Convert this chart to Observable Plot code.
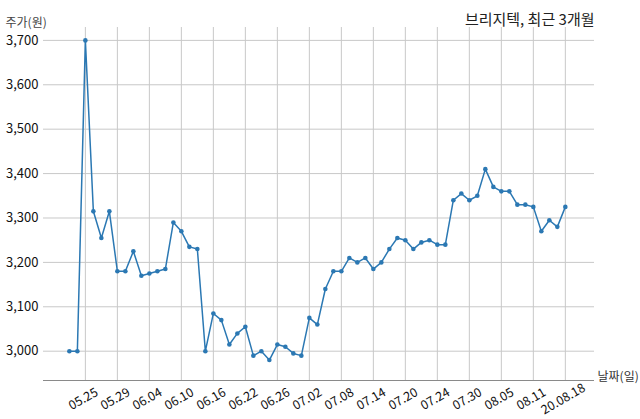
<!DOCTYPE html>
<html><head><meta charset="utf-8">
<script src="https://cdn.jsdelivr.net/npm/d3@7"></script>
<script src="https://cdn.jsdelivr.net/npm/@observablehq/plot@0.6"></script>
<style>body{margin:0;background:#fff} #chart{width:640px;height:419px}</style>
</head><body><div id="chart"></div>
<script>
const dates = [
  "2020-05-21","2020-05-22","2020-05-25","2020-05-26","2020-05-27","2020-05-28","2020-05-29",
  "2020-06-01","2020-06-02","2020-06-03","2020-06-04","2020-06-05","2020-06-08","2020-06-09","2020-06-10",
  "2020-06-11","2020-06-12","2020-06-15","2020-06-16","2020-06-17","2020-06-18","2020-06-19","2020-06-22",
  "2020-06-23","2020-06-24","2020-06-25","2020-06-26","2020-06-29","2020-06-30",
  "2020-07-01","2020-07-02","2020-07-03","2020-07-06","2020-07-07","2020-07-08","2020-07-09","2020-07-10",
  "2020-07-13","2020-07-14","2020-07-15","2020-07-16","2020-07-17","2020-07-20","2020-07-21","2020-07-22",
  "2020-07-23","2020-07-24","2020-07-27","2020-07-28","2020-07-29","2020-07-30","2020-07-31",
  "2020-08-03","2020-08-04","2020-08-05","2020-08-06","2020-08-07","2020-08-10","2020-08-11","2020-08-12",
  "2020-08-13","2020-08-14","2020-08-18"
];
const prices = [
  3000, 3000, 3700, 3315, 3255, 3315, 3180, 3180, 3225, 3170, 3175, 3180, 3185, 3290, 3270, 3235,
  3230, 3000, 3085, 3070, 3015, 3040, 3055, 2990, 3000, 2980, 3015, 3010, 2995, 2990, 3075, 3060,
  3140, 3180, 3180, 3210, 3200, 3210, 3185, 3200, 3230, 3255, 3250, 3230, 3245, 3250, 3240, 3240,
  3340, 3355, 3340, 3350, 3410, 3370, 3360, 3360, 3330, 3330, 3325, 3270, 3295, 3280, 3325
];
const tickDates = [
  "2020-05-25","2020-05-29","2020-06-04","2020-06-10","2020-06-16","2020-06-22","2020-06-26","2020-07-02",
  "2020-07-08","2020-07-14","2020-07-20","2020-07-24","2020-07-30","2020-08-05","2020-08-11","2020-08-18"
];
const tickLabels = [
  "05.25","05.29","06.04","06.10","06.16","06.22","06.26","07.02",
  "07.08","07.14","07.20","07.24","07.30","08.05","08.11","20.08.18"
];
const yTicks = [3000, 3100, 3200, 3300, 3400, 3500, 3600, 3700];
const title = "브리지텍, 최근 3개월";
const yLabel = "주가(원)";
const xLabel = "날짜(일)";

const data = dates.map((d, i) => ({date: d, price: prices[i]}));
const labelOf = new Map(tickDates.map((d, i) => [d, tickLabels[i]]));
const lineColor = "#2b78b3";

const plot = Plot.plot({
  width: 640, height: 419,
  marginTop: 27, marginBottom: 39, marginLeft: 43, marginRight: 46,
  style: {fontFamily: "'Noto Sans CJK KR', sans-serif", fontSize: "12px", color: "#222", background: "#fff"},
  x: {type: "point", domain: dates, padding: 3.44, align: 0.47, axis: null},
  y: {domain: [2934, 3729], axis: null},
  marks: [
    Plot.gridY(yTicks, {stroke: "#c8c8c8", strokeOpacity: 1}),
    Plot.gridX(tickDates, {stroke: "#c8c8c8", strokeOpacity: 1}),
    Plot.axisY(yTicks, {tickSize: 0, tickPadding: 5, tickFormat: d => d3.format(",")(d), fontSize: 13, label: null, fill: "#111"}),
    Plot.ruleY([2934], {stroke: "#8a8a8a"}),
    Plot.line(data, {x: "date", y: "price", stroke: lineColor, strokeWidth: 1.5}),
    Plot.dot(data, {x: "date", y: "price", fill: lineColor, r: 2.3}),
    Plot.text(tickDates, {x: d => d, text: d => labelOf.get(d), frameAnchor: "bottom", dy: 22, rotate: -30, textAnchor: "middle", fontSize: 12.5, fill: "#111"}),
    Plot.text([xLabel], {frameAnchor: "bottom-right", dx: 3, textAnchor: "start", fontSize: 12, fill: "#333"}),
    Plot.text([yLabel], {frameAnchor: "top-left", dx: -38, dy: -9, textAnchor: "start", fontSize: 12, fill: "#444"}),
    Plot.text([title], {frameAnchor: "top-right", dy: -13, textAnchor: "end", fontSize: 15, fill: "#222"})
  ]
});
document.getElementById("chart").append(plot);
</script>
</body></html>
